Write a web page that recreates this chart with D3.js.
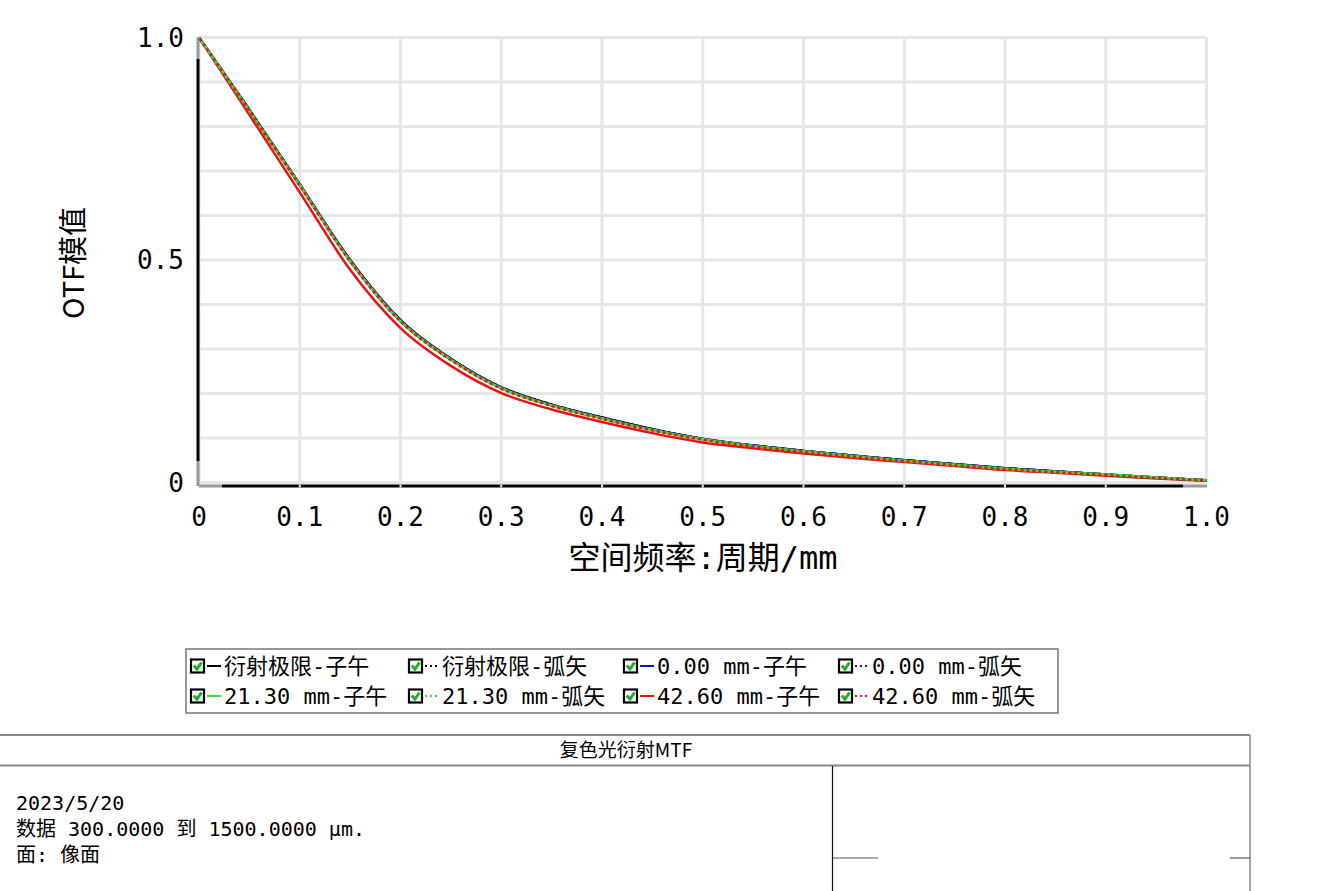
<!DOCTYPE html>
<html>
<head>
<meta charset="utf-8">
<script src="https://cdn.jsdelivr.net/npm/d3@7"></script>
<style>
  html, body { margin: 0; padding: 0; background: #fff; }
  svg { display: block; }
</style>
</head>
<body>
<svg id="chart" width="1342" height="891"></svg>
<script>
// ---------------- DATA ----------------
const freq = [0,0.05,0.1,0.15,0.2,0.25,0.3,0.35,0.4,0.45,0.5,0.55,0.6,0.65,0.7,0.75,0.8,0.85,0.9,0.95,1.0];
const diffT  = [1.0,0.837,0.670,0.500,0.365,0.278,0.214,0.175,0.146,0.120,0.098,0.083,0.071,0.060,0.050,0.041,0.032,0.025,0.018,0.011,0.005];
const diffS  = [1.0,0.837,0.670,0.500,0.365,0.278,0.214,0.175,0.146,0.120,0.098,0.083,0.071,0.060,0.050,0.041,0.032,0.025,0.018,0.011,0.005];
const f000T  = [1.0,0.837,0.669,0.499,0.364,0.277,0.213,0.174,0.145,0.119,0.098,0.083,0.071,0.060,0.050,0.041,0.032,0.025,0.018,0.011,0.005];
const f000S  = [1.0,0.837,0.669,0.499,0.364,0.277,0.213,0.174,0.145,0.119,0.098,0.083,0.071,0.060,0.050,0.041,0.032,0.025,0.018,0.011,0.005];
const f2130T = [1.0,0.835,0.668,0.497,0.362,0.276,0.212,0.173,0.144,0.118,0.097,0.082,0.070,0.059,0.049,0.040,0.031,0.024,0.018,0.011,0.005];
const f2130S = [1.0,0.836,0.668,0.498,0.363,0.276,0.212,0.173,0.144,0.118,0.097,0.082,0.070,0.059,0.049,0.040,0.031,0.024,0.018,0.011,0.005];
const f4260T = [1.0,0.826,0.652,0.478,0.347,0.262,0.201,0.164,0.136,0.111,0.090,0.077,0.065,0.055,0.046,0.037,0.028,0.022,0.015,0.009,0.004];
const f4260S = [1.0,0.835,0.667,0.497,0.362,0.275,0.211,0.172,0.143,0.117,0.096,0.081,0.069,0.058,0.048,0.039,0.030,0.023,0.017,0.010,0.005];

const xTickLabels = ["0","0.1","0.2","0.3","0.4","0.5","0.6","0.7","0.8","0.9","1.0"];
const yTickLabels = ["0","0.5","1.0"];
const legendLabels = ["衍射极限-子午","衍射极限-弧矢","0.00 mm-子午","0.00 mm-弧矢",
                      "21.30 mm-子午","21.30 mm-弧矢","42.60 mm-子午","42.60 mm-弧矢"];
const seriesColors = ["#000000","#000000","#1010e0","#1010e0","#33dd33","#33dd33","#ee1111","#ee1111"];
const seriesDashed = [false,true,false,true,false,true,false,true];
const seriesData = [diffT, diffS, f000T, f000S, f2130T, f2130S, f4260T, f4260S];
const titleText = "复色光衍射MTF";
const infoLines = ["2023/5/20","数据 300.0000 到 1500.0000 µm.","面: 像面"];
const xTitle = "空间频率:周期/mm";
const yTitle = "OTF模值";

// ---------------- DRAW ----------------
const svg = d3.select("#chart");
const monoFont = "'DejaVu Sans Mono', 'Noto Sans CJK SC', monospace";
const x = d3.scaleLinear().domain([0,1]).range([199,1206.5]);
const y = d3.scaleLinear().domain([0,1]).range([482.5,37.5]);

// grid
const grid = svg.append("g");
grid.selectAll("line.v").data(d3.range(0,11)).join("line")
  .attr("x1", d => x(d/10)).attr("x2", d => x(d/10))
  .attr("y1", y(1)).attr("y2", y(0))
  .attr("stroke", "#e6e6e6").attr("stroke-width", 3);
grid.selectAll("line.h").data(d3.range(0,11)).join("line")
  .attr("y1", d => y(d/10)).attr("y2", d => y(d/10))
  .attr("x1", x(0)).attr("x2", x(1))
  .attr("stroke", "#e6e6e6").attr("stroke-width", 3);

// axes lines
const ax = svg.append("g");
ax.append("line").attr("x1", 198).attr("x2", 198).attr("y1", y(1)).attr("y2", 59)
  .attr("stroke", "#999").attr("stroke-width", 3);
ax.append("line").attr("x1", 198).attr("x2", 198).attr("y1", 59).attr("y2", 461)
  .attr("stroke", "#000").attr("stroke-width", 3);
ax.append("line").attr("x1", 198).attr("x2", 198).attr("y1", 461).attr("y2", 486)
  .attr("stroke", "#999").attr("stroke-width", 3);
ax.append("line").attr("x1", 199).attr("x2", 222).attr("y1", 486).attr("y2", 486)
  .attr("stroke", "#999").attr("stroke-width", 3);
ax.append("line").attr("x1", 222).attr("x2", 1183).attr("y1", 486).attr("y2", 486)
  .attr("stroke", "#000").attr("stroke-width", 3);
ax.append("line").attr("x1", 1183).attr("x2", 1207).attr("y1", 486).attr("y2", 486)
  .attr("stroke", "#999").attr("stroke-width", 3);
ax.selectAll("line.t").data(d3.range(1,10)).join("line")
  .attr("x1", d => x(d/10)).attr("x2", d => x(d/10))
  .attr("y1", 484.5).attr("y2", 487.5).attr("stroke", "#eee").attr("stroke-width", 2);

// tick labels
svg.append("g").selectAll("text").data(xTickLabels).join("text")
  .attr("x", (d,i) => x(i/10)).attr("y", 526)
  .attr("text-anchor", "middle")
  .attr("font-family", monoFont).attr("font-size", 26).attr("fill", "#000")
  .text(d => d);
svg.append("g").selectAll("text").data(yTickLabels).join("text")
  .attr("x", 184).attr("y", (d,i) => y(i*0.5) + 9)
  .attr("text-anchor", "end")
  .attr("font-family", monoFont).attr("font-size", 26).attr("fill", "#000")
  .text(d => d);

// axis titles
svg.append("text").attr("x", 703).attr("y", 569).attr("text-anchor", "middle")
  .attr("font-family", monoFont).attr("font-size", 32).attr("fill", "#000").text(xTitle);
svg.append("text").attr("transform", "translate(84,263) rotate(-90)").attr("text-anchor", "middle")
  .attr("font-family", "'Noto Sans CJK SC', 'Noto Sans', sans-serif").attr("font-size", 29).attr("fill", "#000").text(yTitle);

// curves
const line = d3.line().x((d,i) => x(freq[i])).y(d => y(d)).curve(d3.curveMonotoneX);
const curves = svg.append("g").attr("fill", "none");
const order = [6,0,1,2,3,4,5,7];
order.forEach(k => {
  curves.append("path").datum(seriesData[k])
    .attr("d", line)
    .attr("stroke", seriesColors[k])
    .attr("stroke-width", 2.5)
    .attr("stroke-dasharray", seriesDashed[k] ? "3,3" : null)
    .attr("stroke-dashoffset", k * 1.5);
});

// legend
const lg = svg.append("g");
lg.append("rect").attr("x", 186).attr("y", 649).attr("width", 872).attr("height", 64)
  .attr("fill", "#fff").attr("stroke", "#777").attr("stroke-width", 1.5);
const colX = [190, 408, 623, 838];
const rowY = [666, 696];
legendLabels.forEach((lab, i) => {
  const cx = colX[i % 4], cy = rowY[Math.floor(i / 4)];
  const g = lg.append("g").attr("transform", `translate(${cx},${cy})`);
  g.append("rect").attr("x", 1).attr("y", -6.5).attr("width", 13).attr("height", 13)
    .attr("fill", "#fff").attr("stroke", "#000").attr("stroke-width", 2.2);
  g.append("path").attr("d", "M3.8,-0.5 L7,3 L11.5,-3.5").attr("fill", "none")
    .attr("stroke", "#1eb02a").attr("stroke-width", 3);
  g.append("line").attr("x1", 17).attr("x2", 31).attr("y1", 0).attr("y2", 0)
    .attr("stroke", seriesColors[i]).attr("stroke-width", 2)
    .attr("stroke-dasharray", seriesDashed[i] ? "2,3" : null);
  g.append("text").attr("x", 34).attr("y", 8)
    .attr("font-family", monoFont).attr("font-size", 22).attr("fill", "#000").text(lab);
});

// bottom info table
const tb = svg.append("g");
tb.append("line").attr("x1", 0).attr("x2", 1250).attr("y1", 735).attr("y2", 735).attr("stroke", "#888").attr("stroke-width", 2);
tb.append("line").attr("x1", 0).attr("x2", 1250).attr("y1", 765.5).attr("y2", 765.5).attr("stroke", "#888").attr("stroke-width", 2);
tb.append("line").attr("x1", 1250).attr("x2", 1250).attr("y1", 735).attr("y2", 891).attr("stroke", "#888").attr("stroke-width", 1.5);
tb.append("line").attr("x1", 832.5).attr("x2", 832.5).attr("y1", 766).attr("y2", 891).attr("stroke", "#111").attr("stroke-width", 1.2);
tb.append("line").attr("x1", 833).attr("x2", 878).attr("y1", 858).attr("y2", 858).attr("stroke", "#555").attr("stroke-width", 1.2);
tb.append("line").attr("x1", 1230).attr("x2", 1250).attr("y1", 858).attr("y2", 858).attr("stroke", "#555").attr("stroke-width", 1.2);
tb.append("text").attr("x", 626).attr("y", 757).attr("text-anchor", "middle")
  .attr("font-family", "'Noto Sans CJK SC', sans-serif").attr("font-size", 19).attr("fill", "#000").text(titleText);
tb.selectAll("text.info").data(infoLines).join("text")
  .attr("x", 16).attr("y", (d,i) => 810 + i * 26)
  .attr("font-family", monoFont).attr("font-size", 20).attr("fill", "#000")
  .text(d => d);
</script>
</body>
</html>
